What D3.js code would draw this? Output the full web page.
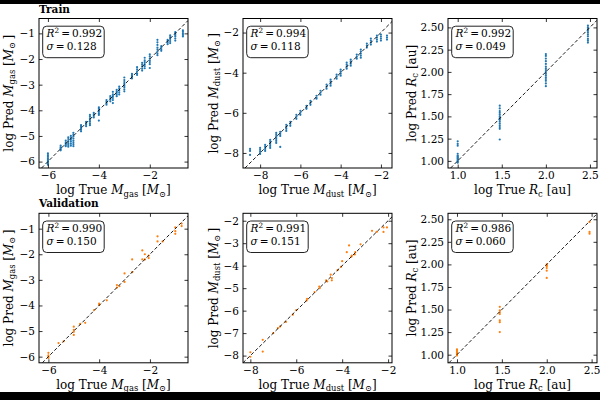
<!DOCTYPE html>
<html>
<head>
<meta charset="utf-8">
<script src="https://cdn.jsdelivr.net/npm/d3@7"></script>
<style>
body { margin: 0; background: #000; }
svg { display: block; }
</style>
</head>
<body>
<script>
// ---- data ----
// train: one true value per cluster, list of predictions for that cluster
var gasTrainTrue = [-6.0, -5.5, -5.3, -5.2, -5.1, -5.0, -4.7, -4.5, -4.35, -4.2, -4.0, -3.7, -3.55, -3.45, -3.3, -3.2, -3.0, -2.7, -2.5, -2.3, -2.2, -2.0, -1.7, -1.55, -1.3, -1.2, -1.0, -0.7];
var gasTrainPred = [
  [-5.68, -5.75, -5.82, -5.88, -5.93, -5.97, -6.0, -6.04, -6.08, -6.12],
  [-5.38, -5.44, -5.48, -5.52, -5.56],
  [-5.18, -5.25, -5.3, -5.35, -5.4],
  [-5.05, -5.12, -5.2, -5.28, -5.35, -5.42],
  [-5.0, -5.08, -5.15, -5.22, -5.3, -5.38],
  [-4.88, -4.95, -5.02, -5.1, -5.18, -5.25, -5.32, -5.4],
  [-4.58, -4.65, -4.7, -4.76, -4.82],
  [-4.45, -4.5, -4.55, -4.62],
  [-4.18, -4.25, -4.32, -4.38, -4.45, -4.52, -4.58],
  [-4.1, -4.15, -4.22, -4.28],
  [-3.88, -3.94, -4.0, -4.06, -4.12, -4.18, -4.4],
  [-3.6, -3.66, -3.72, -3.78],
  [-3.45, -3.52, -3.58, -3.65],
  [-3.28, -3.38, -3.45, -3.52, -3.6, -3.72],
  [-3.2, -3.26, -3.32, -3.38, -3.45],
  [-3.08, -3.15, -3.22, -3.3, -3.38],
  [-2.72, -2.82, -2.9, -2.97, -3.04, -3.1, -3.18, -3.26],
  [-2.58, -2.64, -2.7, -2.76],
  [-2.32, -2.4, -2.48, -2.56, -2.62],
  [-2.15, -2.22, -2.3, -2.38, -2.45],
  [-1.95, -2.05, -2.12, -2.2, -2.28, -2.36],
  [-1.82, -1.9, -1.98, -2.05, -2.12, -2.2, -2.35],
  [-1.25, -1.35, -1.45, -1.55, -1.62, -1.7, -1.78, -1.85],
  [-1.5, -1.56, -1.62, -1.68],
  [-1.25, -1.3, -1.36, -1.42],
  [-1.08, -1.15, -1.22, -1.3, -1.38],
  [-0.95, -1.0, -1.06, -1.12, -1.2, -1.28],
  [-0.88, -0.94, -1.0, -1.06, -1.12]
];

var dustTrainTrue = [-8.5, -8.0, -7.75, -7.5, -7.2, -7.0, -6.7, -6.5, -6.2, -6.0, -5.7, -5.5, -5.2, -5.0, -4.7, -4.5, -4.2, -4.0, -3.7, -3.5, -3.2, -3.0, -2.7, -2.5, -2.2, -2.0, -1.7];
var dustTrainPred = [
  [-7.8, -7.9, -8.1],
  [-7.75, -7.85, -7.95, -8.05],
  [-7.6, -7.7, -7.8, -7.9],
  [-7.35, -7.45, -7.55, -7.65, -7.75],
  [-7.0, -7.1, -7.2, -7.3, -7.4, -7.5],
  [-6.95, -7.05, -7.15, -7.7],
  [-6.6, -6.7, -6.8, -6.9],
  [-6.45, -6.55, -6.65],
  [-6.1, -6.2, -6.3],
  [-5.9, -6.0, -6.1],
  [-5.65, -5.75, -5.8],
  [-5.4, -5.5, -5.6],
  [-5.15, -5.25, -5.3],
  [-4.9, -5.0, -5.1],
  [-4.6, -4.7, -4.8],
  [-4.35, -4.45, -4.55, -4.65],
  [-4.1, -4.2, -4.3],
  [-3.85, -3.95, -4.05, -4.15],
  [-3.5, -3.6, -3.7, -3.8],
  [-3.35, -3.45, -3.55, -3.65],
  [-3.1, -3.2, -3.3],
  [-2.85, -2.95, -3.05, -3.15, -3.25],
  [-2.55, -2.65, -2.75],
  [-2.3, -2.4, -2.5, -2.6],
  [-2.15, -2.25, -2.35, -2.45],
  [-2.1, -2.2, -2.3, -2.4],
  [-2.15, -2.25, -2.35]
];

var rcTrainTrue = [1.0, 1.477, 2.0, 2.477];
var rcTrainPred = [
  [0.98, 0.99, 1.0, 1.01, 1.02, 1.03, 1.04, 1.05, 1.06, 1.08, 1.17, 1.19, 1.22],
  [1.24, 1.36, 1.38, 1.4, 1.42, 1.44, 1.46, 1.47, 1.48, 1.5, 1.52, 1.54, 1.56, 1.59, 1.62],
  [1.84, 1.87, 1.9, 1.92, 1.94, 1.96, 1.98, 2.0, 2.02, 2.04, 2.06, 2.09, 2.12, 2.15, 2.18, 2.2],
  [2.33, 2.35, 2.37, 2.4, 2.42, 2.44, 2.46, 2.48, 2.5, 2.52]
];

// validation: one entry per point
var gasValTrue = [-6.0, -6.0, -6.0, -6.0, -5.6, -5.4, -5.0, -5.0, -5.0, -5.0, -4.75, -4.55, -4.2, -4.0, -4.0, -3.7, -3.3, -3.3, -3.2, -3.0, -3.0, -2.7, -2.7, -2.3, -2.3, -2.2, -2.2, -2.05, -2.05, -1.7, -1.7, -1.5, -1.0, -1.0, -1.0, -0.75, -0.75];
var gasValPred = [-5.85, -5.95, -6.0, -6.05, -5.47, -5.4, -4.83, -4.95, -5.03, -5.15, -4.72, -4.68, -4.18, -3.93, -3.98, -3.8, -3.2, -3.3, -3.25, -2.75, -3.08, -2.2, -2.7, -1.85, -2.2, -2.0, -2.2, -2.05, -2.15, -1.3, -1.5, -1.5, -0.95, -1.1, -1.2, -0.8, -0.9];

var dustValTrue = [-8.0, -8.0, -7.46, -7.46, -7.0, -6.8, -6.7, -6.45, -6.15, -6.0, -5.55, -5.53, -5.2, -5.0, -4.98, -4.7, -4.65, -4.5, -4.45, -4.45, -4.2, -4.05, -4.0, -3.8, -3.7, -3.6, -3.58, -3.45, -3.43, -3.2, -2.7, -2.5, -2.2, -2.2, -2.05];
var dustValPred = [-7.85, -8.05, -7.3, -7.82, -7.0, -6.78, -6.7, -6.5, -6.18, -5.98, -5.55, -5.48, -5.17, -4.93, -5.0, -4.65, -4.7, -4.4, -4.55, -4.65, -4.2, -4.05, -3.8, -3.4, -3.1, -3.6, -3.55, -3.5, -3.4, -3.05, -2.45, -2.5, -2.3, -2.5, -2.3];

var rcValTrue = [1, 1, 1, 1, 1, 1, 1, 1.477, 1.477, 1.477, 1.477, 1.477, 1.477, 1.477, 2, 2, 2, 2, 2, 2, 2.477, 2.477, 2.477];
var rcValPred = [0.99, 1.0, 1.01, 1.02, 1.03, 1.05, 1.06, 1.25, 1.36, 1.38, 1.45, 1.47, 1.49, 1.53, 1.85, 1.93, 1.96, 1.98, 1.99, 2.0, 2.34, 2.36, 2.47];

var statsR2 = ["0.992", "0.994", "0.992", "0.990", "0.991", "0.986"];
var statsSigma = ["0.128", "0.118", "0.049", "0.150", "0.151", "0.060"];
var rowTitles = ["Train", "Validation"];

// ---- layout ----
var W = 600, H = 400;
var colLeft = [39, 243, 448];
var rowTop = [18.5, 213.3];
var boxW = 149, boxH = 149.5;
var FONT = "DejaVu Serif";
var blue = "#1f77b4", orange = "#ff7f0e";

function clusters(tr, pr) {
  var out = [];
  tr.forEach(function (t, i) { pr[i].forEach(function (p) { out.push([t, p]); }); });
  return out;
}
function pairs(tr, pr) { return tr.map(function (t, i) { return [t, pr[i]]; }); }

var gasX = [["log True ", ""], ["M", "i"], ["gas", "sub"], [" [", ""], ["M", "i"], ["\u2299", "sub"], ["]", ""]];
var gasY = [["log Pred ", ""], ["M", "i"], ["gas", "sub"], [" [", ""], ["M", "i"], ["\u2299", "sub"], ["\u2009]", ""]];
var dustX = [["log True ", ""], ["M", "i"], ["dust", "sub"], [" [", ""], ["M", "i"], ["\u2299", "sub"], ["]", ""]];
var dustY = [["log Pred ", ""], ["M", "i"], ["dust", "sub"], [" [", ""], ["M", "i"], ["\u2299", "sub"], ["\u2009]", ""]];
var rcX = [["log True ", ""], ["R", "i"], ["c", "sub"], [" [au]", ""]];
var rcY = [["log Pred ", ""], ["R", "i"], ["c", "sub"], [" [au]", ""]];

var panels = [
  {col: 0, row: 0, pts: clusters(gasTrainTrue, gasTrainPred), color: blue, xd: [-6.35, -0.5], yd: [-6.25, -0.42],
   xt: [-6, -4, -2], yt: [-6, -5, -4, -3, -2, -1], xf: "d", yf: "d", xl: gasX, yl: gasY, ylx: 26.5},
  {col: 1, row: 0, pts: clusters(dustTrainTrue, dustTrainPred), color: blue, xd: [-8.85, -1.45], yd: [-8.75, -1.3],
   xt: [-8, -6, -4, -2], yt: [-8, -6, -4, -2], xf: "d", yf: "d", xl: dustX, yl: dustY, ylx: 25.5},
  {col: 2, row: 0, pts: clusters(rcTrainTrue, rcTrainPred), color: blue, xd: [0.89, 2.58], yd: [0.92, 2.6],
   xt: [1, 1.5, 2, 2.5], yt: [1, 1.25, 1.5, 1.75, 2, 2.25, 2.5], xf: ".1f", yf: ".2f", xl: rcX, yl: rcY, ylx: 32.5},
  {col: 0, row: 1, pts: pairs(gasValTrue, gasValPred), color: orange, xd: [-6.37, -0.5], yd: [-6.24, -0.4],
   xt: [-6, -4, -2], yt: [-6, -5, -4, -3, -2, -1], xf: "d", yf: "d", xl: gasX, yl: gasY, ylx: 26.5},
  {col: 1, row: 1, pts: pairs(dustValTrue, dustValPred), color: orange, xd: [-8.32, -1.83], yd: [-8.32, -1.67],
   xt: [-8, -6, -4, -2], yt: [-8, -7, -6, -5, -4, -3, -2], xf: "d", yf: "d", xl: dustX, yl: dustY, ylx: 25.5},
  {col: 2, row: 1, pts: pairs(rcValTrue, rcValPred), color: orange, xd: [0.9, 2.56], yd: [0.91, 2.566],
   xt: [1, 1.5, 2, 2.5], yt: [1, 1.25, 1.5, 1.75, 2, 2.25, 2.5], xf: ".1f", yf: ".2f", xl: rcX, yl: rcY, ylx: 32.5}
];

var svg = d3.select("body").append("svg")
  .attr("width", W)
  .attr("height", H);

svg.append("rect")
  .attr("x", 0).attr("y", 4)
  .attr("width", W).attr("height", 388)
  .attr("fill", "#fff");

// mixed text: plain / italic / subscript / superscript pieces
function richText(sel, segs, size) {
  var shift = 0;
  segs.forEach(function (s) {
    var ts = sel.append("tspan").text(s[0]);
    var target = s[1] === "sub" ? size * 0.22 : (s[1] === "sup" ? -size * 0.38 : 0);
    ts.attr("dy", target - shift);
    shift = target;
    if (s[1] === "sub" || s[1] === "sup") ts.attr("font-size", size * 0.7);
    if (s[1] === "i") ts.attr("font-style", "italic");
  });
}

panels.forEach(function (p, i) {
  var g = svg.append("g")
    .attr("transform", "translate(" + colLeft[p.col] + "," + rowTop[p.row] + ")");

  var x = d3.scaleLinear().domain(p.xd).range([0, boxW]);
  var y = d3.scaleLinear().domain(p.yd).range([boxH, 0]);

  var cid = "clip" + i;
  g.append("clipPath").attr("id", cid)
    .append("rect").attr("width", boxW).attr("height", boxH);

  // points
  g.append("g").attr("clip-path", "url(#" + cid + ")")
    .selectAll("circle").data(p.pts).enter()
    .append("circle")
      .attr("cx", function (d) { return x(d[0]); })
      .attr("cy", function (d) { return y(d[1]); })
      .attr("r", 1.1)
      .attr("fill", p.color);

  // one-to-one line
  var lo = Math.max(p.xd[0], p.yd[0]), hi = Math.min(p.xd[1], p.yd[1]);
  g.append("line")
    .attr("clip-path", "url(#" + cid + ")")
    .attr("x1", x(lo)).attr("y1", y(lo))
    .attr("x2", x(hi)).attr("y2", y(hi))
    .attr("stroke", "#000")
    .attr("stroke-width", 0.9)
    .attr("stroke-dasharray", "3.5,2.2");

  // axes with inward ticks on all sides
  g.append("g").attr("transform", "translate(0," + boxH + ")")
    .call(d3.axisBottom(x).tickValues(p.xt).tickFormat(d3.format(p.xf)).tickSize(-3.5).tickSizeOuter(0).tickPadding(4));
  g.append("g")
    .call(d3.axisLeft(y).tickValues(p.yt).tickFormat(d3.format(p.yf)).tickSize(-3.5).tickSizeOuter(0).tickPadding(4));
  g.append("g")
    .call(d3.axisTop(x).tickValues(p.xt).tickFormat("").tickSize(-3.5).tickSizeOuter(0));
  g.append("g").attr("transform", "translate(" + boxW + ",0)")
    .call(d3.axisRight(y).tickValues(p.yt).tickFormat("").tickSize(-3.5).tickSizeOuter(0));
  g.selectAll(".domain").remove();
  g.selectAll(".tick line").attr("stroke", "#000").attr("stroke-width", 0.8);
  g.selectAll(".tick text").attr("font-family", FONT).attr("font-size", 10.5).attr("fill", "#000");

  g.append("rect")
    .attr("width", boxW).attr("height", boxH)
    .attr("fill", "none").attr("stroke", "#000").attr("stroke-width", 1);

  // axis labels
  var xl = g.append("text")
    .attr("x", boxW / 2).attr("y", boxH + 26)
    .attr("text-anchor", "middle")
    .attr("font-family", FONT).attr("font-size", 12);
  richText(xl, p.xl, 12);

  var yl = g.append("text")
    .attr("transform", "translate(" + (-p.ylx) + "," + (boxH / 2) + ") rotate(-90)")
    .attr("text-anchor", "middle")
    .attr("font-family", FONT).attr("font-size", 12);
  richText(yl, p.yl, 12);

  // stats box
  g.append("rect")
    .attr("x", 3.7).attr("y", 7.7)
    .attr("width", 61.5).attr("height", 31.5)
    .attr("rx", 4)
    .attr("fill", "#fff").attr("stroke", "#222").attr("stroke-width", 1);
  var t1 = g.append("text").attr("x", 7.5).attr("y", 18.8)
    .attr("font-family", FONT).attr("font-size", 10.5);
  richText(t1, [["R", "i"], ["2", "sup"], ["\u2009=\u2009" + statsR2[i], ""]], 10.5);
  var t2 = g.append("text").attr("x", 7.5).attr("y", 31.5)
    .attr("font-family", FONT).attr("font-size", 10.5);
  richText(t2, [["\u03c3", "i"], ["\u2009=\u2009" + statsSigma[i], ""]], 10.5);

  if (p.col === 0) {
    g.append("text")
      .attr("x", 0).attr("y", -6)
      .attr("font-family", FONT).attr("font-size", 10.5).attr("font-weight", "bold")
      .text(rowTitles[p.row]);
  }
});
</script>
</body>
</html>
